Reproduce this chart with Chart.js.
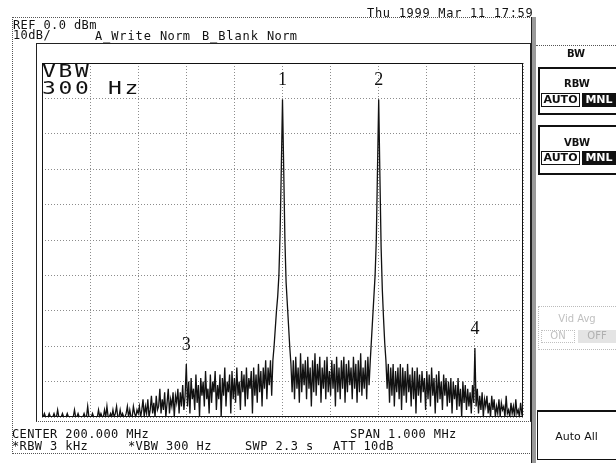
<!DOCTYPE html>
<html>
<head>
<meta charset="utf-8">
<script src="https://cdn.jsdelivr.net/npm/chart.js@4"></script>
<style>
  html, body { margin: 0; padding: 0; background: #fff; }
  #wrap { position: relative; width: 616px; height: 463px; overflow: hidden; color: #111;
          font-family: "DejaVu Sans Mono", "Liberation Mono", monospace; }
  #wrap canvas { position: absolute; left: 0; top: 0; }
  .t { position: absolute; white-space: pre; font-size: 12px; line-height: 12px; letter-spacing: 0.4px; }
  .box { position: absolute; box-sizing: border-box; }
  .big { position: absolute; white-space: pre; font-size: 17px; line-height: 17px; letter-spacing: 2px;
         transform: scaleX(1.35); transform-origin: left top; }
  .key { position: absolute; font-family: "DejaVu Sans", sans-serif; font-size: 10px; font-weight: bold;
         text-align: center; line-height: 12px; }
</style>
</head>
<body>
<div id="wrap">
  <canvas id="sa" width="616" height="463"></canvas>

  <!-- frames -->
  <div class="box" style="left:12px; top:17px; width:522px; height:437px; border:1px dotted #555; border-right:1px solid #222;"></div>
  <div class="box" style="left:36px; top:43px; width:495px; height:379px; border:1px solid #222; border-bottom:1px dotted #555;"></div>
  <div class="box" style="left:531px; top:17px; width:5px; height:446px; background:#9a9a9a; border-left:1px solid #222;"></div>

  <!-- header -->
  <div class="t" style="left:367px; top:7px; letter-spacing:0.7px;">Thu 1999 Mar 11 17:59</div>
  <div class="t" style="left:13px; top:19px;">REF 0.0 dBm</div>
  <div class="t" style="left:13px; top:29px;">10dB/</div>
  <div class="t" style="left:95px; top:30px; letter-spacing:0.9px;">A_Write</div>
  <div class="t" style="left:160px; top:30px;">Norm</div>
  <div class="t" style="left:202px; top:30px; letter-spacing:0.9px;">B_Blank</div>
  <div class="t" style="left:267px; top:30px;">Norm</div>

  <!-- footer -->
  <div class="t" style="left:12px; top:428px;">CENTER 200.000 MHz</div>
  <div class="t" style="left:350px; top:428px;">SPAN 1.000 MHz</div>
  <div class="t" style="left:12px; top:440px;">*RBW 3 kHz</div>
  <div class="t" style="left:128px; top:440px;">*VBW 300 Hz</div>
  <div class="t" style="left:245px; top:440px;">SWP 2.3 s</div>
  <div class="t" style="left:333px; top:440px;">ATT 10dB</div>

  <!-- annotation inside graticule -->
  <div class="big" style="left:42px; top:63px;">VBW</div>
  <div class="big" style="left:42px; top:80px;">300 Hz</div>

  <!-- softkey panel -->
  <div class="box" style="left:536px; top:45px; width:80px; height:1px; border-top:1px dotted #555;"></div>
  <div class="key" style="left:536px; top:48px; width:80px;">BW</div>
  <div class="box" style="left:538px; top:67px; width:82px; height:48px; border:2px solid #111;"></div>
  <div class="key" style="left:538px; top:78px; width:78px;">RBW</div>
  <div class="box" style="left:541px; top:93px; width:39px; height:14px; border:1px solid #111;"></div>
  <div class="key" style="left:541px; top:94px; width:39px; font-size:11px;">AUTO</div>
  <div class="box" style="left:582px; top:93px; width:34px; height:14px; background:#111;"></div>
  <div class="key" style="left:582px; top:94px; width:34px; font-size:11px; color:#fff;">MNL</div>
  <div class="box" style="left:538px; top:125px; width:82px; height:50px; border:2px solid #111;"></div>
  <div class="key" style="left:538px; top:137px; width:78px;">VBW</div>
  <div class="box" style="left:541px; top:151px; width:39px; height:14px; border:1px solid #111;"></div>
  <div class="key" style="left:541px; top:152px; width:39px; font-size:11px;">AUTO</div>
  <div class="box" style="left:582px; top:151px; width:34px; height:14px; background:#111;"></div>
  <div class="key" style="left:582px; top:152px; width:34px; font-size:11px; color:#fff;">MNL</div>

  <!-- greyed-out key -->
  <div class="box" style="left:538px; top:306px; width:82px; height:44px; border:1px dotted #bbb;"></div>
  <div class="key" style="left:538px; top:313px; width:78px; color:#c0c0c0; font-weight:normal;">Vid Avg</div>
  <div class="box" style="left:541px; top:330px; width:34px; height:13px; border:1px dotted #c0c0c0;"></div>
  <div class="key" style="left:541px; top:330px; width:34px; color:#c0c0c0; font-weight:normal;">ON</div>
  <div class="box" style="left:578px; top:330px; width:38px; height:13px; background:#e4e4e4;"></div>
  <div class="key" style="left:578px; top:330px; width:38px; color:#b0b0b0; font-weight:normal;">OFF</div>

  <div class="box" style="left:537px; top:410px; width:82px; height:50px; border-top:2px solid #111; border-left:1px solid #111; border-bottom:1px solid #111;"></div>
  <div class="key" style="left:537px; top:431px; width:79px; font-size:11px; font-weight:normal;">Auto All</div>
</div>

<script>
// sweep: 401 points, 199.5 .. 200.5 MHz
const startMHz = 199.5;
const stopMHz = 200.5;
const stepMHz = 0.0025;
const refDbm = 0;
const bottomDbm = -100;
const dbPerDiv = 10;
const mhzPerDiv = 0.1;

// trace A (dBm)
const traceDbm = [
  -100, -100, -99, -100, -100, -100, -99, -100, -100, -100, -99, -100, -100, -98, -100, -100, -100, -99, -100, -100,
  -100, -99, -100, -100, -100, -100, -100, -98, -100, -100, -99, -100, -100, -100, -100, -99, -100, -100, -97, -100,
  -100, -100, -99, -100, -100, -100, -100, -98, -100, -99, -100, -100, -98, -100, -97, -100, -100, -99, -100, -98,
  -100, -99, -97, -100, -100, -98, -100, -99, -100, -100, -99, -97, -100, -98, -100, -100, -97, -99, -100, -98,
  -99, -97, -100, -98, -95, -100, -97, -99, -95, -100, -98, -94, -99, -96, -100, -94, -98, -97, -92, -99,
  -95, -98, -93, -100, -96, -92, -99, -95, -97, -93, -100, -94, -96, -92, -99, -93, -97, -91, -98, -94,
  -85, -97, -90, -99, -89, -95, -92, -98, -88, -96, -91, -100, -89, -94, -90, -97, -87, -95, -92, -99,
  -88, -96, -90, -93, -87, -98, -91, -95, -88, -100, -89, -94, -86, -97, -90, -93, -88, -99, -87, -95,
  -89, -96, -86, -94, -90, -98, -87, -93, -88, -97, -86, -95, -89, -92, -87, -99, -86, -94, -88, -96,
  -85, -93, -87, -97, -86, -92, -84, -95, -86, -91, -84, -94, -84, -80, -75, -70, -66, -60, -48, -30,
  -10.3, -30, -50, -62, -68, -74, -80, -85, -93, -84, -95, -83, -92, -86, -96, -82, -93, -85, -91, -84,
  -95, -83, -92, -86, -97, -84, -93, -82, -94, -85, -91, -83, -96, -86, -92, -84, -95, -83, -93, -87,
  -94, -84, -92, -85, -97, -83, -93, -86, -95, -84, -92, -83, -96, -85, -93, -84, -91, -86, -95, -83,
  -92, -85, -96, -84, -93, -82, -94, -86, -92, -84, -95, -83, -91, -84, -78, -72, -66, -60, -50, -30,
  -10.3, -32, -52, -64, -72, -79, -84, -92, -85, -96, -86, -94, -85, -97, -87, -93, -86, -95, -85, -98,
  -86, -94, -87, -96, -85, -93, -88, -97, -86, -95, -87, -99, -86, -94, -88, -96, -87, -93, -89, -98,
  -87, -95, -88, -97, -86, -94, -89, -99, -88, -96, -87, -95, -90, -98, -88, -94, -89, -97, -90, -96,
  -89, -99, -90, -95, -91, -98, -89, -97, -92, -100, -90, -96, -91, -98, -92, -97, -93, -99, -91, -96,
  -80.5, -97, -92, -99, -94, -98, -93, -100, -95, -97, -94, -99, -96, -100, -94, -98, -95, -100, -97, -99,
  -95, -100, -96, -98, -97, -100, -94, -99, -98, -100, -96, -99, -97, -100, -95, -99, -98, -100, -96, -99,
  -98
];

// markers
const markerMHz = [200.0, 200.2, 199.8, 200.4];
const markerNames = ["1", "2", "3", "4"];

const points = traceDbm.map((v, i) => ({ x: startMHz + i * stepMHz, y: v }));

const graticule = {
  id: "graticule",
  afterDatasetsDraw(chart) {
    const { ctx, chartArea: a, scales: { x, y } } = chart;
    ctx.save();
    ctx.strokeStyle = "#111";
    ctx.lineWidth = 1;
    ctx.strokeRect(a.left + 0.5, a.top + 0.5, a.right - a.left - 1, a.bottom - a.top - 1);

    ctx.fillStyle = "#111";
    ctx.font = '18px "Liberation Serif", serif';
    ctx.textAlign = "center";
    ctx.textBaseline = "bottom";
    markerMHz.forEach((f, k) => {
      const i = Math.round((f - startMHz) / stepMHz);
      ctx.fillText(markerNames[k], x.getPixelForValue(f), y.getPixelForValue(traceDbm[i]) - 10);
    });
    ctx.restore();
  }
};

new Chart(document.getElementById("sa"), {
  type: "line",
  data: {
    datasets: [{
      label: "A_Write",
      data: points,
      borderColor: "#111",
      borderWidth: 1.3,
      pointRadius: 0,
      tension: 0
    }]
  },
  options: {
    responsive: false,
    animation: false,
    devicePixelRatio: 1,
    layout: { padding: { left: 42, top: 63, right: 93, bottom: 46 } },
    plugins: { legend: { display: false }, tooltip: { enabled: false } },
    scales: {
      x: {
        type: "linear",
        min: startMHz,
        max: stopMHz,
        ticks: { display: false, stepSize: mhzPerDiv },
        grid: { color: "#8c8c8c", drawTicks: false },
        border: { display: false, dash: [1, 2] },
        afterFit: s => { s.height = 0; }
      },
      y: {
        min: bottomDbm,
        max: refDbm,
        ticks: { display: false, stepSize: dbPerDiv },
        grid: { color: "#8c8c8c", drawTicks: false },
        border: { display: false, dash: [1, 2] },
        afterFit: s => { s.width = 0; }
      }
    }
  },
  plugins: [graticule]
});
</script>
</body>
</html>
